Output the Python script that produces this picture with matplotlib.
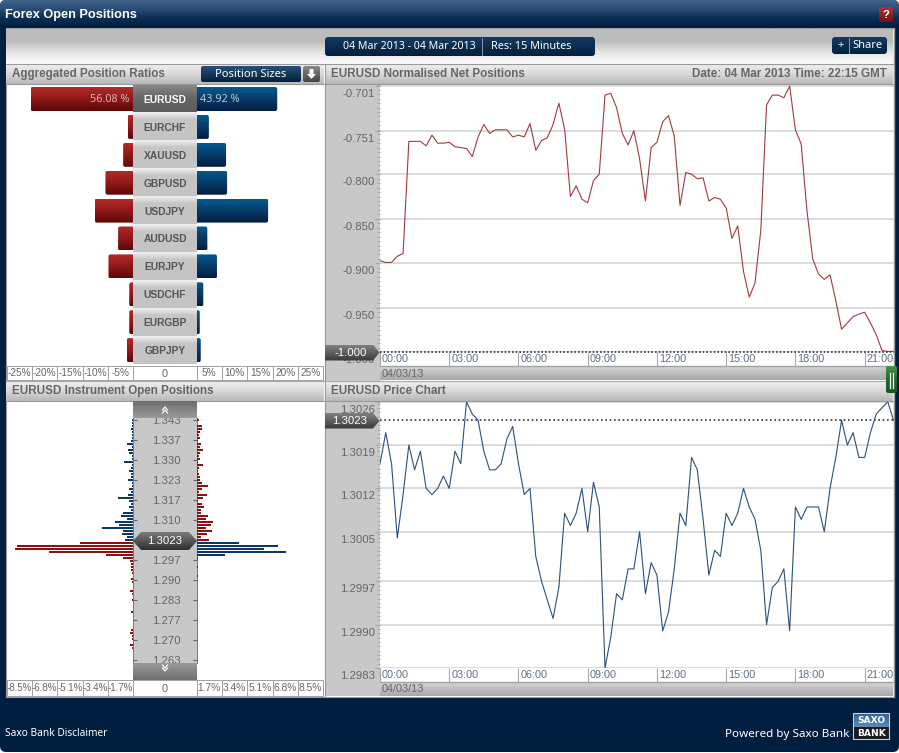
import matplotlib
matplotlib.use('Agg')
import matplotlib.pyplot as plt
import numpy as np
from matplotlib.colors import LinearSegmentedColormap
from matplotlib.patches import FancyBboxPatch, Polygon, Rectangle
from matplotlib.transforms import ScaledTranslation

plt.rcParams['font.family'] = ['Liberation Sans', 'DejaVu Sans']

# ---- data
instruments = ['EURUSD', 'EURCHF', 'XAUUSD', 'GBPUSD', 'USDJPY', 'AUDUSD', 'EURJPY', 'USDCHF', 'EURGBP', 'GBPJPY']
short_pct = [20.3, 1.1, 2.0, 5.5, 7.6, 3.0, 4.9, 0.8, 0.8, 1.3]
long_pct = [15.9, 2.4, 5.8, 6.0, 14.1, 2.1, 4.0, 1.3, 0.6, 0.8]
ratio_ticks_left = ['-25%', '-20%', '-15%', '-10%', '-5%']
ratio_ticks_right = ['5%', '10%', '15%', '20%', '25%']

# rows above the current price, top to bottom
above_blue = [.07, .07, .07, .18, .07, .07, .11, .18, .45, .07, .36, .31, .11, .09, .60, .11, .18, .31, .18, .13, .34,
              .07, .07, .27, .18, .34, 1.01, .29, .18, .31, .13, .72, .81, .45, 1.23, .94, 2.13, .72, .74, .45, .58]
above_red = [.18, .04, .34, .34, .20, .13, .20, .07, .29, .22, .40, .25, .16, .20, .07, .40, .13, .07, .18, .20, .22,
             .34, .74, .36, .13, .67, .45, .11, .36, .49, .27, .27, .74, .60, 1.12, .94, .63, 1.05, .72, .27, .81]
# rows below the current price
below_red = [3.58, 7.83, 7.96, 5.68, 1.86, .72, .22, .13, .13, .13, .09, .04, .18, .07, .04, .04, .22, .07, .04, .09,
             .04, .04, .04, .18, .04, .04, .04, .04, .04, .18, .20, .07, .07, .04, .20, .11, .04, .04, .04, .04]
below_blue = [2.82, 5.48, 4.53, 6.00, 1.92, .11, .04, .04, .07, .02, .02, .07, .02, .02, .02, .02, .02, .02, .02, .02,
              .02, .02, .04, .02, .02, .02, .02, .02, .04, .02, .02, .02, .04, .02, .02, .02, .02, .02, .02, .02]
open_ticks = [1.3430, 1.3364, 1.3298, 1.3232, 1.3166, 1.3100, 1.3034, 1.2968, 1.2902, 1.2836, 1.2770, 1.2704, 1.2638]
open_labels = ['1.343', '1.337', '1.330', '1.323', '1.317', '1.310', '', '1.297', '1.290', '1.283', '1.277', '1.270', '1.263']
open_pct_left = ['-8.5%', '-6.8%', '-5.1%', '-3.4%', '-1.7%']
open_pct_right = ['1.7%', '3.4%', '5.1%', '6.8%', '8.5%']

net_pos = [-0.897, -0.899, -0.899, -0.892, -0.889, -0.763, -0.763, -0.763, -0.768, -0.756, -0.765, -0.765, -0.764,
           -0.769, -0.770, -0.771, -0.780, -0.758, -0.744, -0.754, -0.750, -0.750, -0.750, -0.758, -0.756, -0.758,
           -0.743, -0.773, -0.762, -0.759, -0.744, -0.720, -0.749, -0.825, -0.813, -0.828, -0.832, -0.807, -0.800,
           -0.711, -0.709, -0.725, -0.754, -0.767, -0.751, -0.783, -0.830, -0.770, -0.764, -0.741, -0.734, -0.757,
           -0.835, -0.798, -0.800, -0.805, -0.804, -0.830, -0.826, -0.828, -0.838, -0.872, -0.858, -0.909, -0.938,
           -0.922, -0.863, -0.722, -0.711, -0.711, -0.714, -0.701, -0.750, -0.766, -0.841, -0.895, -0.912, -0.918,
           -0.913, -0.942, -0.974, -0.967, -0.960, -0.957, -0.955, -0.967, -0.980, -0.998, -0.999, -0.999]
net_ticks = [-0.701, -0.751, -0.800, -0.850, -0.900, -0.950, -1.000]

price = [1.3016, 1.3021, 1.3016, 1.3004, 1.3011, 1.3019, 1.3015, 1.3018, 1.3012, 1.3011, 1.3012, 1.3014, 1.3012,
         1.3018, 1.3016, 1.3026, 1.3024, 1.3023, 1.3018, 1.3015, 1.3015, 1.3016, 1.3020, 1.3022, 1.3016, 1.3011,
         1.3012, 1.3001, 1.2997, 1.2994, 1.2991, 1.2996, 1.3008, 1.3006, 1.3008, 1.3012, 1.3005, 1.3013, 1.3009,
         1.2983, 1.2988, 1.2995, 1.2994, 1.2999, 1.2999, 1.3005, 1.2995, 1.3000, 1.2998, 1.2989, 1.2992, 1.2999,
         1.3008, 1.3006, 1.3017, 1.3015, 1.3007, 1.2998, 1.3002, 1.3001, 1.3008, 1.3006, 1.3008, 1.3012, 1.3009,
         1.3007, 1.3002, 1.2990, 1.2996, 1.2997, 1.2999, 1.2989, 1.3009, 1.3007, 1.3009, 1.3009, 1.3009, 1.3005,
         1.3012, 1.3017, 1.3023, 1.3019, 1.3021, 1.3017, 1.3017, 1.3021, 1.3024, 1.3025, 1.3026, 1.3023]
price_ticks = [1.3026, 1.3019, 1.3012, 1.3005, 1.2997, 1.2990, 1.2983]
hours = [0, 3, 6, 9, 12, 15, 18, 21]
hour_labels = ['00:00', '03:00', '06:00', '09:00', '12:00', '15:00', '18:00', '21:00']

NAVY = '#001f40'
GREY_TXT = '#666666'
W, H = 899, 753
fig = plt.figure(figsize=(W / 100, H / 100), dpi=100, facecolor='white')


def px_axes(x0, y0, x1, y1, z):
    ax = fig.add_axes([x0 / W, 1 - y1 / H, (x1 - x0) / W, (y1 - y0) / H], zorder=z)
    ax.patch.set_alpha(0)
    return ax


def grad(ax, x0, y0, x1, y1, colors, r=0, poly=None, z=2):
    # vertical gradient, optionally clipped to a rounded box or a polygon
    cmap = LinearSegmentedColormap.from_list('g', colors)
    ylo, yhi = min(y0, y1), max(y0, y1)
    top_first = ax.yaxis_inverted()
    ext = (x0, x1, yhi, ylo) if top_first else (x0, x1, ylo, yhi)
    im = ax.imshow(np.linspace(0, 1, 64)[:, None], extent=ext, cmap=cmap, aspect='auto',
                   interpolation='bilinear', zorder=z, origin='upper')
    if poly is not None:
        p = Polygon(poly, closed=True, fc='none', ec='none', zorder=z)
        ax.add_patch(p)
        im.set_clip_path(p)
    elif r:
        p = FancyBboxPatch((x0, ylo), x1 - x0, yhi - ylo, boxstyle=f'round,pad=0,rounding_size={r}',
                           fc='none', ec='none', zorder=z)
        ax.add_patch(p)
        im.set_clip_path(p)
    return im


def px_canvas(z):
    ax = px_axes(0, 0, W, H, z)
    ax.set_xlim(0, W)
    ax.set_ylim(H, 0)
    ax.set_autoscale_on(False)
    ax.axis('off')
    return ax


def rect(ax, x0, y0, x1, y1, fc='white', ec='none', lw=0.7, z=2):
    ax.add_patch(Rectangle((x0, y0), x1 - x0, y1 - y0, fc=fc, ec=ec, lw=lw, zorder=z))


bg = px_canvas(0)
fg = px_canvas(6)

# ---- window
win = FancyBboxPatch((0, 0), W, H - 1, boxstyle='round,pad=0,rounding_size=6', fc=NAVY, ec='none', zorder=1)
bg.add_patch(win)
grad(bg, 0, 0, W, 27, ['#42638a', '#2b4c74', '#0c2e55', NAVY], r=6)
bg.text(5, 14.5, 'Forex Open Positions', color='white', fontsize=9.2, fontweight='bold', va='center', zorder=3)
grad(bg, 879, 7, 893, 22, ['#b03535', '#6d1414'], r=2, z=3)
bg.text(886, 14.5, '?', color='white', fontsize=8, fontweight='bold', ha='center', va='center', zorder=4)

# ---- main panel
rect(bg, 5.5, 28, 894, 697, fc='white', ec='#9a9a9a', lw=0.8)
grad(bg, 6, 29, 893, 64, ['#bcbcbc', '#bcbcbc', '#e4e4e4', '#ffffff'], z=3)

grad(bg, 325, 37, 595, 56, ['#163a60', '#002040'], r=3, z=4)
bg.plot([482, 482], [38, 55], color='#8a9bb0', lw=0.7, zorder=5)
bg.text(409, 46.5, '04 Mar 2013 - 04 Mar 2013', color='white', fontsize=7.6, ha='center', va='center', zorder=5,
        family=['Noto Sans'])
bg.text(531.5, 46.5, 'Res: 15 Minutes', color='white', fontsize=7.8, ha='center', va='center', zorder=5,
        family=['Noto Sans'])
grad(bg, 832, 37, 887, 54, ['#163a60', '#002040'], r=3, z=4)
bg.plot([848.5, 848.5], [38, 53], color='#8a9bb0', lw=0.7, zorder=5)
bg.text(840.5, 45, '+', color='white', fontsize=8, ha='center', va='center', zorder=5, family=['Noto Sans'])
bg.text(867.5, 45.5, 'Share', color='white', fontsize=8, ha='center', va='center', zorder=5, family=['Noto Sans'])

# section headers
HDR = ['#f0f0f0', '#d8d8d8', '#b8b8b8']
bg.plot([6, 893], [63.5, 63.5], color='#999999', lw=0.8, zorder=4)
for x0, x1, y0, y1 in [(6, 324, 64, 84), (325, 893, 64, 84), (6, 324, 381, 401), (325, 893, 381, 401)]:
    grad(bg, x0, y0, x1, y1, HDR, z=3)
    bg.plot([x0, x1], [y1, y1], color='#999999', lw=0.8, zorder=4)
bg.plot([6, 893], [380.5, 380.5], color='#a8a8a8', lw=0.8, zorder=4)
for tx, ty, s, ha in [(12, 74, 'Aggregated Position Ratios', 'left'), (331, 74, 'EURUSD Normalised Net Positions', 'left'),
                      (12, 391, 'EURUSD Instrument Open Positions', 'left'), (331, 391, 'EURUSD Price Chart', 'left'),
                      (887, 74, 'Date: 04 Mar 2013 Time: 22:15 GMT', 'right')]:
    bg.text(tx, ty, s, color=GREY_TXT, fontsize=8.35, fontweight='bold', va='center', ha=ha, zorder=5)

grad(bg, 201, 66, 301, 82, ['#2b4f78', '#002040'], r=2, z=4)
bg.text(251, 74.5, 'Position Sizes', color='white', fontsize=8, ha='center', va='center', zorder=5, family=['Noto Sans'])
grad(bg, 303, 66, 320, 82, ['#8a8a8a', '#444444'], r=2, z=4)
bg.add_patch(Polygon([(309.5, 69), (313.5, 69), (313.5, 74), (316, 74), (311.5, 79), (307, 74), (309.5, 74)],
                     fc='white', ec='none', zorder=5))

# left column strips
bg.plot([324.5, 324.5], [64, 697], color='#999999', lw=0.8, zorder=4)
rect(bg, 325, 84, 380, 380.5, fc='#c8c8c8', z=3)
rect(bg, 325, 401, 380, 696, fc='#c8c8c8', z=3)
for yy in (366, 682):
    grad(bg, 380, yy, 893, yy + 14, ['#d8d8d8', '#bdbdbd', '#a8a8a8'], z=3)
    rect(bg, 380, yy - 14, 893, yy, fc='white', z=3)
    bg.plot([380, 893], [yy, yy], color='#a0a0a0', lw=1, zorder=4)
    bg.text(382, yy + 7.5, '04/03/13', color=GREY_TXT, fontsize=7.8, va='center', zorder=5)
for x_cells, y0, y1 in [(6.7, 366, 380), (6.7, 680, 696)]:
    for i in range(5):
        rect(bg, 6.7 + 25.33 * i, y0, 6.7 + 25.33 * (i + 1), y1, fc='white', ec='#a0a0a0', z=3)
        rect(bg, 196.7 + 25.33 * i, y0, 196.7 + 25.33 * (i + 1), y1, fc='white', ec='#a0a0a0', z=3)
    rect(bg, 133.3, y0, 196.7, y1, fc='white', ec='#a0a0a0', z=3)
    bg.text(165, (y0 + y1) / 2 + 0.5, '0', color=GREY_TXT, fontsize=7.8, ha='center', va='center', zorder=5)

# center columns
ROW_H = 27.9
for i, name in enumerate(instruments):
    y0 = 84.5 + ROW_H * i
    cols = ['#8a8a8a', '#666666', '#5c5c5c'] if i == 0 else ['#f2f2f2', '#c6c6c6', '#c4c4c4', '#c4c4c4', '#c4c4c4']
    grad(bg, 133, y0, 197, y0 + ROW_H, cols, z=3)
    bg.text(165, y0 + ROW_H / 2 + 1.5, name, color='white' if i == 0 else '#555555', fontsize=7.4, fontweight='bold',
            ha='center', va='center', zorder=5)
rect(bg, 133, 401, 197, 680, fc='#c8c8c8', z=3)
bg.plot([133.3, 133.3], [418, 663], color='#777777', lw=0.7, zorder=4)
bg.plot([196.7, 196.7], [418, 663], color='#777777', lw=0.7, zorder=4)

# ---- ratio bars
rows = np.arange(len(instruments))
for x0, x1, vals, xlim, cols, labs in [
        (6.7, 133.3, short_pct, (-25, 0), ['#b32a2a', '#8f1818', '#5e0808'], ratio_ticks_left),
        (196.7, 323.3, long_pct, (0, 25), ['#005a8c', '#0a3a68', '#001f42'], ratio_ticks_right)]:
    ax = px_axes(x0, 84.3, x1, 366, 2)
    ax.set_xlim(*xlim)
    ax.set_ylim((366 - 99) / ROW_H, (84.3 - 99) / ROW_H)
    ax.set_autoscale_on(False)
    sign = -1 if xlim[0] < 0 else 1
    for r, v in zip(rows, vals):
        xa, xb = (-v, 1.5) if sign < 0 else (-1.5, v)
        cmap = LinearSegmentedColormap.from_list('b', cols)
        im = ax.imshow(np.linspace(0, 1, 32)[:, None], extent=(xa, xb, r + .43, r - .43), cmap=cmap, aspect='auto',
                       origin='upper', zorder=2)
        p = FancyBboxPatch((xa, r - .43), xb - xa, .86, boxstyle='round,pad=0,rounding_size=0.4', fc='none', ec='none',
                           mutation_aspect=0.18, zorder=2)
        ax.add_patch(p)
        im.set_clip_path(p)
    ax.set_xticks(xlim[0] + 2.5 + 5 * np.arange(5))
    ax.set_xticklabels(labs, fontsize=7.2, color=GREY_TXT)
    ax.tick_params(axis='x', length=0, pad=1.5)
    ax.set_yticks([])
    for s in ax.spines.values():
        s.set_visible(False)
    if sign < 0:
        ax.text(-0.8, 0, '56.08 %', color='#d8b4b4', fontsize=7.8, ha='right', va='center', zorder=4, family=['Noto Sans'])
    else:
        ax.text(0.6, 0, '43.92 %', color='#b8c8d6', fontsize=7.8, ha='left', va='center', zorder=4, family=['Noto Sans'])

# ---- open positions
open_rows = 1.3430 - 0.00099 * np.arange(len(above_blue) + len(below_red))
n_up = len(above_blue)
P_PER_PX = 0.00033
ylo = 1.3430 - (680 - 420) * P_PER_PX
yhi = 1.3430 + (420 - 401) * P_PER_PX
BAR_RED, BAR_BLUE = '#8c1212', '#0d3866'
ax_l = px_axes(6.7, 401, 133.3, 680, 2)
ax_l.barh(open_rows[:n_up], -np.array(above_blue), height=0.00075, color=BAR_BLUE)
ax_l.barh(open_rows[n_up:], -np.array(below_red), height=0.00075, color=BAR_RED)
ax_l.set_xlim(-8.5, 0)
ax_l.set_ylim(ylo, yhi)
ax_l.set_xticks(-8.5 + 0.85 + 1.7 * np.arange(5))
ax_l.set_xticklabels(open_pct_left, fontsize=7, color=GREY_TXT)
ax_l.tick_params(axis='x', length=0, pad=2.5)
ax_l.yaxis.tick_right()
ax_l.set_yticks(open_ticks)
ax_l.set_yticklabels(open_labels, fontsize=8.2, color=GREY_TXT, ha='center')
ax_l.tick_params(axis='y', length=3, width=0.8, color='#666666', pad=(32 - 3) * 0.72)

ax_r = px_axes(196.7, 401, 323.3, 680, 2)
ax_r.barh(open_rows[:n_up], above_red, height=0.00075, color=BAR_RED)
ax_r.barh(open_rows[n_up:], below_blue, height=0.00075, color=BAR_BLUE)
ax_r.set_xlim(0, 8.5)
ax_r.set_ylim(ylo, yhi)
ax_r.set_xticks(0.85 + 1.7 * np.arange(5))
ax_r.set_xticklabels(open_pct_right, fontsize=7.4, color=GREY_TXT)
ax_r.tick_params(axis='x', length=0, pad=2.5)
ax_r.set_yticks(open_ticks)
ax_r.set_yticklabels([])
ax_r.tick_params(axis='y', length=3, width=0.8, color='#666666')
for ax in (ax_l, ax_r):
    for s in ax.spines.values():
        s.set_visible(False)

# scrollers and current price badge over the labels
grad(fg, 133, 401, 197, 418, ['#6e6e6e', '#9a9a9a'], z=3)
grad(fg, 133, 663, 197, 680, ['#9a9a9a', '#6e6e6e'], z=3)
for yc, d in [(411, -1), (669, 1)]:
    for off in (-2.5, 0.5):
        fg.plot([162.5, 165, 167.5], [yc + off - d * 1.5, yc + off + d * 1.5, yc + off - d * 1.5], color='white', lw=0.9, zorder=4)
grad(fg, 133, 532, 197, 550, ['#7a7a7a', '#303030'],
     poly=[(133, 541), (141, 532), (189, 532), (197, 541), (189, 550), (141, 550)], z=3)
fg.text(165, 541, '1.3023', color='white', fontsize=8.2, ha='center', va='center', zorder=4)


# ---- time series charts
def series_axes(y0, y1, ylim, values, color, ticks, tick_labels, minor):
    ax = px_axes(380, y0, 893.5, y1, 2)
    ax.plot(np.arange(len(values)) * 0.25, values, color=color, lw=0.8)
    ax.set_xlim(0, 22.25)
    ax.set_ylim(*ylim)
    ax.set_yticks(ticks)
    ax.set_yticklabels(tick_labels, fontsize=8.2, color=GREY_TXT)
    ax.set_yticks(minor, minor=True)
    ax.grid(axis='y', which='major', color='#d6d6d6', lw=1.2)
    ax.set_axisbelow(True)
    ax.tick_params(axis='y', which='major', length=3.6, width=0.8, color='#a8a8a8', pad=0)
    ax.tick_params(axis='y', which='minor', length=2.2, width=0.7, color='#a8a8a8')
    ax.set_xticks(hours)
    ax.set_xticklabels(hour_labels, fontsize=7.8, color='#5f7088', ha='left')
    ax.tick_params(axis='x', length=10, width=0.8, color='#a8a8a8', pad=-8.6)
    for lab in ax.get_xticklabels():
        lab.set_transform(lab.get_transform() + ScaledTranslation(2 / 100, 0, fig.dpi_scale_trans))
    for lab in ax.get_yticklabels():
        lab.set_transform(lab.get_transform() + ScaledTranslation(0, -7 / 100, fig.dpi_scale_trans))
    for s in ax.spines.values():
        s.set_visible(False)
    return ax


ax_net = series_axes(85.3, 352.3, (-1.0, -0.701), net_pos, '#a03a3e', net_ticks,
                     ['%.3f' % t for t in net_ticks], np.arange(-1.0, -0.7, 0.005))
ax_net.axhline(-1.0, color='#333333', lw=1.2, ls=(0, (1, 1.2)), clip_on=False)
ax_price = series_axes(401.7, 668, (1.2983, 1.3026), price, '#2c5078', price_ticks,
                       ['%.4f' % t for t in price_ticks], np.arange(1.2983, 1.3026, 0.00007))
ax_price.axhline(1.3023, color='#333333', lw=1.2, ls=(0, (1, 1.6)))

# value badges
DARK = ['#808080', '#3a3a3a']
grad(fg, 325, 344.5, 380, 360.5, DARK, poly=[(325, 344.5), (373, 344.5), (379.5, 352.5), (373, 360.5), (325, 360.5)], z=3)
fg.text(367, 352.5, '-1.000', color='white', fontsize=8.2, ha='right', va='center', zorder=4)
grad(fg, 325, 413, 380, 428.5, DARK, poly=[(325, 413), (373, 413), (379.5, 420.8), (373, 428.5), (325, 428.5)], z=3)
fg.text(367, 420.8, '1.3023', color='white', fontsize=8.2, ha='right', va='center', zorder=4)

# right edge and handle
rect(fg, 893.5, 28, 899, 697, fc=NAVY, z=2)
fg.plot([893.7, 893.7], [28, 697], color='#9a9a9a', lw=1, zorder=3)
grad(fg, 886, 366, 897, 393, ['#3f9a45', '#1e6b2a', '#0f5a1e'], r=2, z=4)
fg.plot([890, 890], [373, 388], color='white', lw=0.9, zorder=5)
fg.plot([893, 893], [373, 388], color='white', lw=0.9, zorder=5)

# ---- footer
fg.text(5, 734, 'Saxo Bank Disclaimer', color='white', fontsize=7.3, va='center', zorder=4, family=['Noto Sans'])
fg.text(849, 734, 'Powered by Saxo Bank', color='white', fontsize=8.4, ha='right', va='center', zorder=4, family=['Noto Sans'])
grad(fg, 853, 713, 889, 727, ['#2f5f8f', '#5b8bb8'], z=3)
rect(fg, 853, 727, 889, 739, fc='#1c1c1c', z=3)
fg.add_patch(Rectangle((853, 713), 36, 26, fc='none', ec='#d0d0d0', lw=0.8, zorder=4))
fg.text(871, 720.3, 'SAXO', color='white', fontsize=6.6, fontweight='bold', ha='center', va='center', zorder=5, family=['DejaVu Sans'])
fg.text(871, 733.3, 'BANK', color='white', fontsize=6.6, fontweight='bold', ha='center', va='center', zorder=5, family=['DejaVu Sans'])

fig.savefig('out.png', dpi=100, facecolor='white')
